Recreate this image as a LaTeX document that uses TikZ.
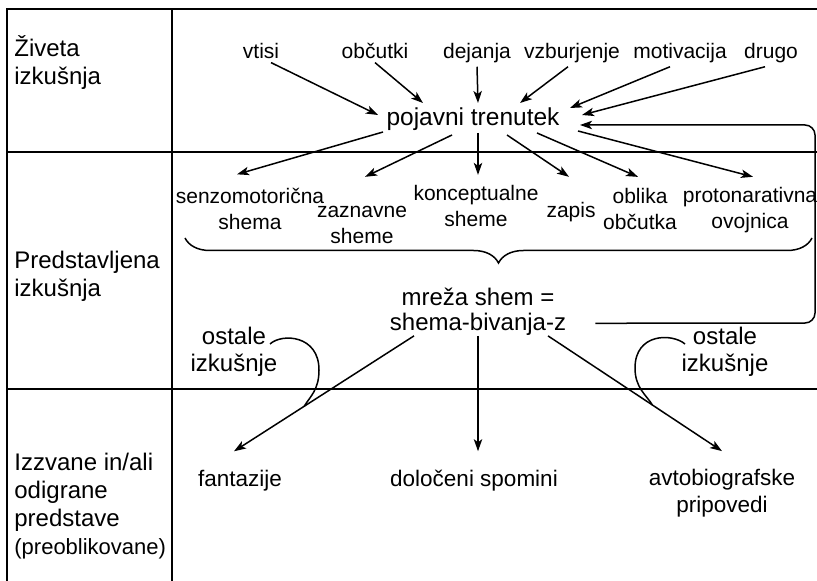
\documentclass[tikz,border=0pt]{standalone}
\usepackage{fontspec}
\setmainfont{Liberation Sans}
\usetikzlibrary{arrows.meta,decorations.pathreplacing}

\begin{document}
\begin{tikzpicture}[
    x=0.5pt, y=-0.5pt,
    rule/.style={line width=0.9pt},
    arr/.style={line width=0.75pt, -{Stealth[length=6pt, width=4.2pt, inset=1.5pt]}},
    curl/.style={line width=0.75pt},
    rowlabel/.style={anchor=west, align=left, inner sep=0pt, font=\fontsize{12}{14}\selectfont},
    word/.style={anchor=base, inner sep=1.5pt, font=\fontsize{10.5}{13}\selectfont},
    pair/.style={align=center, inner sep=0pt, font=\fontsize{10.5}{13}\selectfont},
    bigword/.style={anchor=base, inner sep=0pt, font=\fontsize{12}{14}\selectfont},
    big/.style={align=center, inner sep=0pt, font=\fontsize{12}{13.5}\selectfont},
    low/.style={inner sep=0pt, font=\fontsize{11.25}{13.5}\selectfont}
]
\useasboundingbox (0,0) rectangle (817,581);

% === table ===
\draw[rule] (7,581) -- (7,9) -- (817,9);
\draw[rule] (172,9) -- (172,581);
\draw[rule] (7,152) -- (817,152);
\draw[rule] (7,389) -- (817,389);

\node[rowlabel] (lived) at (14,63) {Živeta\\izkušnja};
\node[rowlabel] (repr) at (14,276) {Predstavljena\\izkušnja};
\node[rowlabel] (evoked) at (14,506) {Izzvane in/ali\\odigrane\\predstave\\{\fontsize{11}{14}\selectfont(preoblikovane)}};

% === lived experience ===
\node[word] (vtisi) at (261,59) {vtisi};
\node[word] (obcutki) at (375,59) {občutki};
\node[word] (dejanja) at (477,59) {dejanja};
\node[word] (vzbur) at (572,59) {vzburjenje};
\node[word] (motiv) at (680,59) {motivacija};
\node[word] (drugo) at (771,59) {drugo};

\node[inner sep=0pt, font=\fontsize{12.25}{14}\selectfont] (pt) at (473,119) {pojavni trenutek};

\draw[arr] ([shift={(10,0)}]vtisi.south) -- ([shift={(-95,-4)}]pt.center);
\draw[arr] (obcutki.south) -- ([shift={(-50,-16)}]pt.center);
\draw[arr] (dejanja.south) -- ([shift={(5,-16)}]pt.center);
\draw[arr] ([shift={(-4,0)}]vzbur.south) -- ([shift={(47,-16)}]pt.center);
\draw[arr] ([shift={(-10,0)}]motiv.south) -- ([shift={(97,-11)}]pt.center);
\draw[arr] ([shift={(-6,0)}]drugo.south) -- ([shift={(109,-4)}]pt.center);

% === represented experience ===
\node[pair] (senzo) at (250,208.5) {senzomotorična\\shema};
\node[pair] (zazn) at (362,225) {zaznavne\\sheme};
\node[pair] (konc) at (476,206) {konceptualne\\sheme};
\node[pair] (zapis) at (571,212) {zapis};
\node[pair] (oblika) at (640,209) {oblika\\občutka};
\node[pair] (proto) at (750,210) {protonarativna\\ovojnica};

\draw[arr] ([shift={(-90,13)}]pt.center) -- ([shift={(-13,-13)}]senzo.north);
\draw[arr] ([shift={(-21,16)}]pt.center) -- ([shift={(3,-29)}]zazn.north);
\draw[arr] ([shift={(5,14)}]pt.center) -- ([shift={(2,-10)}]konc.north);
\draw[arr] ([shift={(34,16)}]pt.center) -- ([shift={(-2,-25)}]zapis.north);
\draw[arr] ([shift={(64,14)}]pt.center) -- ([shift={(-2,-11)}]oblika.north);
\draw[arr] ([shift={(105,12)}]pt.center) -- ([shift={(3,-10)}]proto.north);

\draw[curl, decorate, decoration={brace, mirror, amplitude=12.5pt}] (185,238) -- (812,238);

\node[bigword] (mreza) at (478,305.5) {mreža shem =};
\node[bigword] (shema) at (478,330.5) {shema-bivanja-z};

% loop back to the moment
\draw[arr, rounded corners=5pt] ([shift={(29,-1)}]shema.east) -- (815,323) -- (815,125) -- ([shift={(107,6)}]pt.center);

\node[big] (ostL) at (234,352) {ostale\\izkušnje};
\node[big] (ostR) at (725,352) {ostale\\izkušnje};

% === evoked / enacted ===
\node[low, anchor=base] (fant) at (240,486) {fantazije};
\node[low, anchor=base] (dolo) at (474,486) {določeni spomini};
\node[low, align=center] (avto) at (722,493.5) {avtobiografske\\pripovedi};

\draw[arr] ([shift={(-64,0)}]shema.south) -- coordinate[pos=0.61] (mL) ([shift={(-6,-18)}]fant.north);
\draw[arr] (shema.south) -- ([shift={(4,-18)}]dolo.north);
\draw[arr] ([shift={(70,0)}]shema.south) -- coordinate[pos=0.6] (mR) ([shift={(0,-18)}]avto.north);

\draw[curl] ([shift={(36,-8)}]ostL.center) .. controls +(12,-11) and +(0,-35) .. (319,370) .. controls +(0,20) and +(6,-10) .. (mL);
\draw[curl] ([shift={(-40,-8)}]ostR.center) .. controls +(-13,-11) and +(0,-35) .. (635,368) .. controls +(0,20) and +(-6,-10) .. (mR);

\end{tikzpicture}
\end{document}
